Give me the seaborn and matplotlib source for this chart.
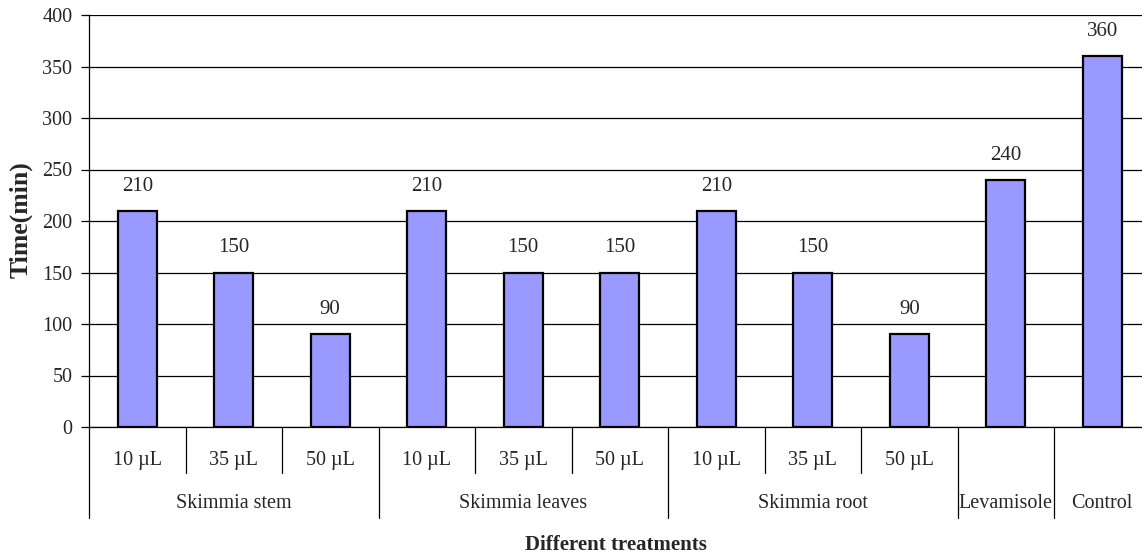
import numpy as np
import pandas as pd
import matplotlib
matplotlib.use("Agg")
import matplotlib.pyplot as plt
import seaborn as sns

# DATA
doses = ["10 µL", "35 µL", "50 µL", "10 µL", "35 µL", "50 µL", "10 µL", "35 µL", "50 µL", "", ""]
groups = ["Skimmia stem", "Skimmia leaves", "Skimmia root", "Levamisole", "Control"]
group_sizes = [3, 3, 3, 1, 1]
times = [210, 150, 90, 210, 150, 150, 210, 150, 90, 240, 360]

sns.set_theme(style="white")
plt.rcParams["font.family"] = ["Liberation Serif", "DejaVu Serif"]

df = pd.DataFrame({"pos": [str(i) for i in range(len(times))], "time": times})

fig = plt.figure(figsize=(11.42, 5.56), dpi=100)
# plot area runs a little past the right edge of the picture, as in the original
ax = fig.add_axes([89 / 1142, 1 - 427 / 556, 1061.5 / 1142, 412 / 556])

sns.barplot(data=df, x="pos", y="time", color="#9999FF", edgecolor="black",
            linewidth=1.6, width=0.404, saturation=1, ax=ax)

ax.set_ylim(0, 400)
ax.set_yticks(np.arange(0, 401, 50))
ax.set_xlim(-0.5, len(times) - 0.5)
ax.yaxis.grid(True, color="black", linewidth=0.9)
ax.set_axisbelow(True)
for s in ["top", "right"]:
    ax.spines[s].set_visible(False)
ax.spines["left"].set_color("black")
ax.spines["bottom"].set_color("black")
ax.spines["left"].set_linewidth(0.9)
ax.spines["bottom"].set_linewidth(0.9)
ax.tick_params(axis="y", left=True, length=6, width=0.9, color="black", labelsize=14.5, pad=6)
ax.set_xticks([])
ax.set_xlabel("")
ax.set_ylabel("")

# value labels
for i, v in enumerate(times):
    ax.annotate(str(v), (i, v), xytext=(0, 14.5), textcoords="offset points",
                ha="center", va="baseline", fontsize=15)

# multi-level category axis
tr = ax.get_xaxis_transform()
inner_y = -46 / 412
outer_y = -91 / 412
for i, d in enumerate(doses):
    if d:
        ax.text(i, -33 / 412, d, transform=tr, ha="center", va="center", fontsize=14.5)

start = 0
ax.plot([-0.5, -0.5], [0, outer_y], transform=tr, color="black", lw=0.9, clip_on=False)
for g, n in zip(groups, group_sizes):
    end = start + n
    ax.text((start + end - 1) / 2, -77 / 412, g, transform=tr, ha="center", va="center", fontsize=14.5)
    for k in range(start + 1, end):
        ax.plot([k - 0.5, k - 0.5], [0, inner_y], transform=tr, color="black", lw=0.9, clip_on=False)
    if end < len(times):
        ax.plot([end - 0.5, end - 0.5], [0, outer_y], transform=tr, color="black", lw=0.9, clip_on=False)
    start = end

fig.text(21 / 1142, 1 - 220 / 556, "Time(min)", ha="center", va="center", rotation=90,
         fontsize=18.5, fontweight="bold")
fig.text((89 + 1142) / 2 / 1142, 1 - 545 / 556, "Different treatments", ha="center", va="center",
         fontsize=15, fontweight="bold")

fig.savefig("out.png", dpi=100)
